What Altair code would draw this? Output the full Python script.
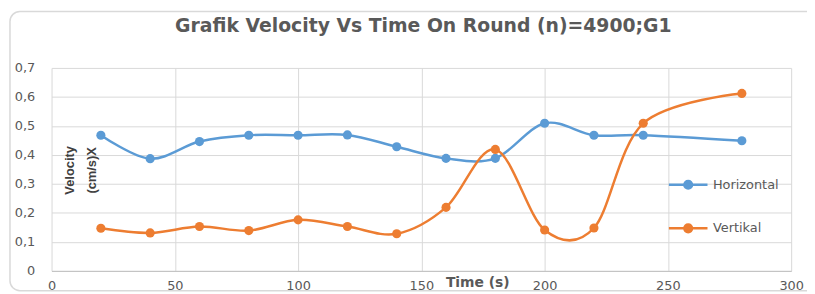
import altair as alt
import pandas as pd

# ---- data ----
time_s = [20, 40, 60, 80, 100, 120, 140, 160, 180, 200, 220, 240, 280]
horizontal = [0.468, 0.387, 0.446, 0.468, 0.468, 0.469, 0.428, 0.388, 0.388, 0.509, 0.468, 0.468, 0.449]
vertikal = [0.147, 0.131, 0.153, 0.139, 0.176, 0.153, 0.128, 0.219, 0.419, 0.141, 0.148, 0.509, 0.612]
series_names = ["Horizontal", "Vertikal"]
series_colors = ["#5B9BD5", "#ED7D31"]
x_ticks = [0, 50, 100, 150, 200, 250, 300]
y_ticks = [0, 0.1, 0.2, 0.3, 0.4, 0.5, 0.6, 0.7]
chart_title = "Grafik Velocity Vs Time On Round (n)=4900;G1"
x_title = "Time (s)"
y_title = ["Velocity", "(cm/s)X"]

rows = []
for name, vals in zip(series_names, [horizontal, vertikal]):
    for t, v in zip(time_s, vals):
        rows.append({"time": t, "velocity": v, "series": name})
df = pd.DataFrame(rows)

GRAY = "#595959"
legend_path = "M-1,0H1M-0.2,0A0.2,0.2,0,1,1,0.2,0A0.2,0.2,0,1,1,-0.2,0Z"

color = alt.Color(
    "series:N",
    scale=alt.Scale(domain=series_names, range=series_colors),
    legend=alt.Legend(
        title=None,
        orient="none",
        legendX=622,
        legendY=97,
        padding=0,
        symbolType=legend_path,
        symbolSize=1521,
        symbolStrokeWidth=2.5,
        symbolOpacity=1,
        labelFont="DejaVu Sans",
        labelFontSize=13,
        labelColor=GRAY,
        labelOffset=4,
        rowPadding=14,
    ),
)

x = alt.X(
    "time:Q",
    scale=alt.Scale(domain=[0, 300], nice=False),
    axis=alt.Axis(
        values=x_ticks,
        title=x_title,
        titleFont="DejaVu Sans",
        titleFontSize=14,
        titleFontWeight="bold",
        titleColor=GRAY,
        titleX=430,
        titleY=12,
        titleAlign="center",
        titleBaseline="middle",
        labelFont="DejaVu Sans",
        labelFontSize=13,
        labelColor=GRAY,
        labelPadding=9,
        tickSize=0,
        domainColor="#bfbfbf",
        gridColor="#d9d9d9",
        labelFlush=False,
    ),
)

y = alt.Y(
    "velocity:Q",
    scale=alt.Scale(domain=[0, 0.7], nice=False),
    axis=alt.Axis(
        values=y_ticks,
        title=y_title,
        titleFont="Liberation Sans",
        titleFontSize=13,
        titleFontWeight="bold",
        titleColor="#404040",
        titleAngle=270,
        titleX=12,
        titleY=103,
        titleAlign="center",
        titleBaseline="top",
        titleLineHeight=22,
        labelExpr="datum.value == 0 ? '0' : replace(format(datum.value, '.1f'), '.', ',')",
        labelFont="DejaVu Sans",
        labelFontSize=13,
        labelColor=GRAY,
        labelAlign="right",
        labelPadding=17,
        tickSize=0,
        domain=False,
        gridColor="#d9d9d9",
    ),
)

base = alt.Chart(df).encode(x=x, y=y, color=color)
lines = base.mark_line(interpolate="cardinal", strokeWidth=2.5)
points = base.mark_point(filled=True, size=85, opacity=1)

frame = alt.Chart(pd.DataFrame({"k": [0]})).mark_rect(
    fillOpacity=0, stroke="#d9d9d9", strokeWidth=1.5, cornerRadius=10
).encode(x=alt.value(-42), x2=alt.value(790), y=alt.value(-57), y2=alt.value(225))

chart = alt.layer(frame, lines, points).properties(
    width=747,
    height=205,
    autosize=alt.AutoSizeParams(type="none"),
    padding={"left": 44, "top": 59, "right": 16, "bottom": 40},
    title=alt.Title(
        chart_title,
        font="DejaVu Sans",
        fontSize=19,
        fontWeight="bold",
        color=GRAY,
        anchor="middle",
        frame="group",
        baseline="alphabetic",
        offset=-40,
        dx=2,
    ),
).configure_view(stroke=None)

chart.save("out.html", embed_options={"renderer": "svg", "actions": False})
